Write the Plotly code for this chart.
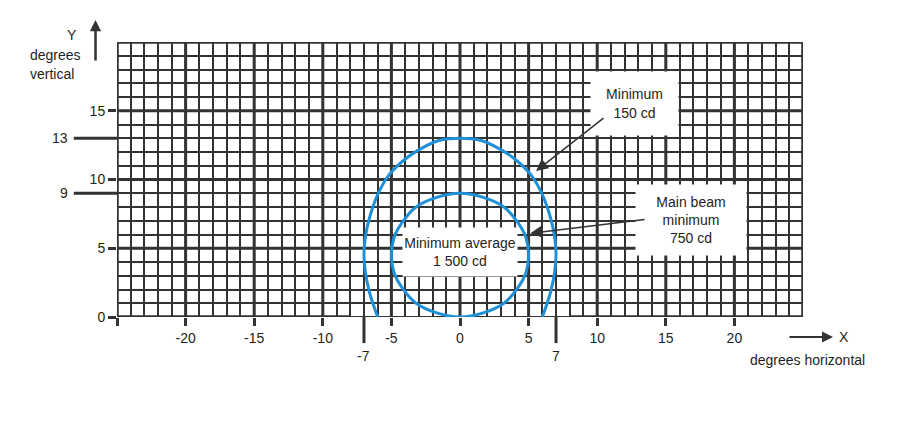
import plotly.graph_objects as go

# ---- data ----
outer_x = [-6.0, -6.6, -6.9, -7.0, -6.9, -6.6, -6.0, -5.2, -4.1, -3.1, -1.5, 0.0,
           1.5, 3.1, 4.1, 5.2, 6.0, 6.6, 6.9, 7.0, 6.9, 6.6, 6.0]
outer_y = [0.0, 1.8, 3.3, 4.5, 5.8, 7.2, 8.9, 10.3, 11.4, 12.1, 12.85, 13.0,
           12.85, 12.1, 11.4, 10.3, 8.9, 7.2, 5.8, 4.5, 3.3, 1.8, 0.0]
inner_x = [0.0, 1.7, 3.2, 4.2, 4.8, 5.0, 4.8, 4.2, 3.2, 1.7, 0.0,
           -1.7, -3.2, -4.2, -4.8, -5.0, -4.8, -4.2, -3.2, -1.7, 0.0]
inner_y = [0.0, 0.3, 1.0, 2.1, 3.2, 4.5, 5.8, 6.9, 8.0, 8.7, 9.0,
           8.7, 8.0, 6.9, 5.8, 4.5, 3.2, 2.1, 1.0, 0.3, 0.0]

x_tick_vals = [-25, -20, -15, -10, -5, 0, 5, 10, 15, 20]
x_tick_text = ['', '-20', '-15', '-10', '-5', '0', '5', '10', '15', '20']
y_tick_vals = [0, 5, 10, 15]
y_tick_text = ['0', '5', '10', '15']
x_extra_ticks = [-7, 7]
y_extra_ticks = [13, 9]

label_min = 'Minimum<br>150 cd'
label_main = 'Main beam<br>minimum<br>750 cd'
label_avg = 'Minimum average<br>1 500 cd'

# ---- style ----
FONT = "Liberation Sans, Arial, sans-serif"
FS = 14
INK = '#333333'
TXT = '#231f20'
BLUE = '#1f8fd6'
X_RANGE = [-25, 25]
Y_RANGE = [0, 20]

fig = go.Figure()
fig.add_trace(go.Scatter(x=outer_x, y=outer_y, mode='lines', hoverinfo='skip',
                         line=dict(color=BLUE, width=3, shape='spline', smoothing=1)))
fig.add_trace(go.Scatter(x=inner_x, y=inner_y, mode='lines', hoverinfo='skip',
                         line=dict(color=BLUE, width=3, shape='spline', smoothing=1)))

shapes = []
def seg(x0, y0, x1, y1, w, xref='x', yref='y', layer='below'):
    shapes.append(dict(type='line', x0=x0, y0=y0, x1=x1, y1=y1, xref=xref, yref=yref,
                       layer=layer, line=dict(color=INK, width=w)))

# major grid lines every 5 degrees
for v in range(X_RANGE[0] + 5, X_RANGE[1], 5):
    seg(v, Y_RANGE[0], v, Y_RANGE[1], 3)
for v in range(Y_RANGE[0] + 5, Y_RANGE[1], 5):
    seg(X_RANGE[0], v, X_RANGE[1], v, 3)
# frame
seg(X_RANGE[0], Y_RANGE[0], X_RANGE[0], Y_RANGE[1], 3.5)
seg(X_RANGE[1], Y_RANGE[0], X_RANGE[1], Y_RANGE[1], 3.5)
seg(X_RANGE[0], Y_RANGE[1], X_RANGE[1], Y_RANGE[1], 3.5)
seg(X_RANGE[0], 0, -8, 0, 3.5)
seg(8, 0, X_RANGE[1], 0, 3.5)
seg(-8, 0, 8, 0, 2)
# long extra ticks
for v in x_extra_ticks:
    seg(v, 0, v, -0.095, 3, xref='x', yref='paper', layer='above')
for v in y_extra_ticks:
    seg(0, v, -0.063, v, 3, xref='paper', yref='y', layer='above')

annotations = []
def txt(x, y, text, xref='paper', yref='paper', xanchor='center', size=FS, **kw):
    d = dict(x=x, y=y, text=text, xref=xref, yref=yref, xanchor=xanchor, yanchor='middle',
             showarrow=False, font=dict(family=FONT, size=size, color=TXT))
    d.update(kw)
    annotations.append(d)

for v in x_extra_ticks:
    txt(v, -0.142, str(v), xref='x')
for v in y_extra_ticks:
    txt(-0.069, v, str(v), yref='y', xanchor='right')

# axis titles
txt(-0.0656, 1.0255, 'Y')
txt(-0.1297, 0.9527, 'degrees', xanchor='left')
txt(-0.1297, 0.8836, 'vertical', xanchor='left')
txt(1.0598, -0.0727, 'X')
txt(1.0066, -0.1564, 'degrees horizontal')

# axis arrows
annotations.append(dict(x=-0.0313, y=1.08, xref='paper', yref='paper', text='', showarrow=True,
                        ax=0, ay=42, arrowhead=2, arrowsize=0.9, arrowwidth=2.5, arrowcolor=INK))
annotations.append(dict(x=1.0437, y=-0.0727, xref='paper', yref='paper', text='', showarrow=True,
                        ax=-45, ay=0, arrowhead=2, arrowsize=1.1, arrowwidth=2, arrowcolor=INK))

# callout boxes
txt(12.72, 15.53, label_min, xref='x', yref='y', bgcolor='white', width=87, height=63, borderpad=0)
txt(16.84, 7.05, label_main, xref='x', yref='y', bgcolor='white', width=110, height=70, borderpad=0)
txt(0.0, 4.7, label_avg, xref='x', yref='y', bgcolor='white', width=114, height=48, borderpad=0)

# callout arrows
annotations.append(dict(x=5.54, y=10.62, ax=10.57, ay=14.55, xref='x', yref='y', axref='x', ayref='y',
                        text='', showarrow=True, arrowhead=2, arrowsize=1.6, arrowwidth=1.5, arrowcolor=INK))
annotations.append(dict(x=5.12, y=6.09, ax=13.56, ay=7.11, xref='x', yref='y', axref='x', ayref='y',
                        text='', showarrow=True, arrowhead=2, arrowsize=1.6, arrowwidth=1.5, arrowcolor=INK))

axis_common = dict(showgrid=False, zeroline=False, showline=False, ticks='outside', ticklen=8,
                   tickwidth=3, tickcolor=INK, tickmode='array',
                   tickfont=dict(family=FONT, size=FS, color=TXT), fixedrange=True)

# the page body adds an 8 px offset, so margins are reduced on the left/top
fig.update_layout(
    width=900, height=421,
    margin=dict(l=109, r=105, t=34, b=112, pad=0),
    paper_bgcolor='white', plot_bgcolor='white',
    showlegend=False,
    shapes=shapes,
    annotations=annotations,
    xaxis=dict(range=X_RANGE, tickvals=x_tick_vals, ticktext=x_tick_text,
               minor=dict(dtick=1, tick0=0, showgrid=True, gridcolor=INK, gridwidth=1.8, ticks=''),
               **axis_common),
    yaxis=dict(range=Y_RANGE, tickvals=y_tick_vals, ticktext=y_tick_text,
               minor=dict(dtick=1, tick0=0, showgrid=True, gridcolor=INK, gridwidth=1.8, ticks=''),
               **axis_common),
)

fig.write_html("out.html")
